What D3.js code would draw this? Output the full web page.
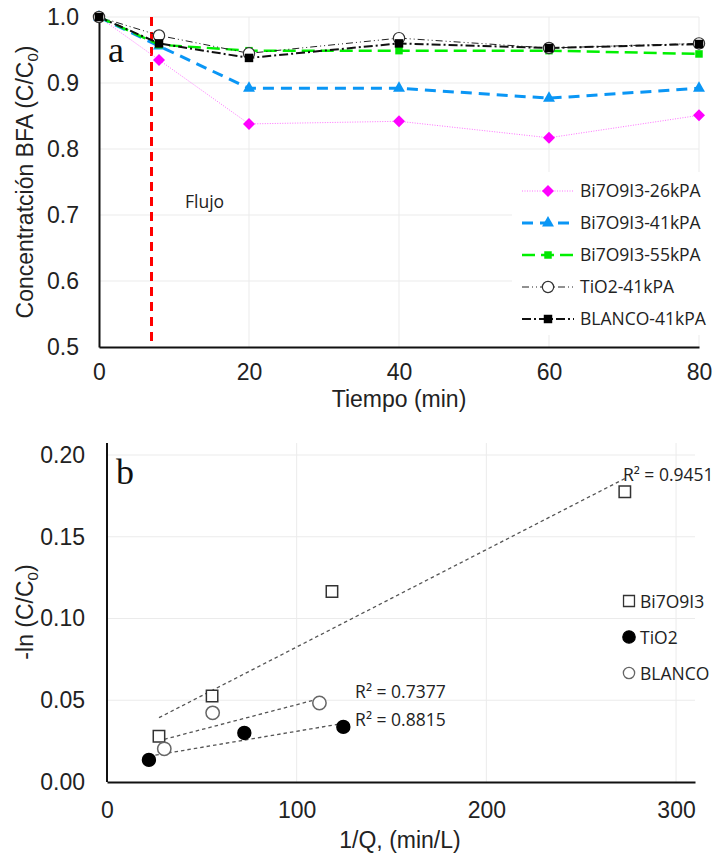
<!DOCTYPE html>
<html>
<head>
<meta charset="utf-8">
<script src="https://cdn.jsdelivr.net/npm/d3@7"></script>
<style>
  body { margin: 0; background: #fff; }
  svg { display: block; }
  .tick-label { font-family: "Liberation Sans", Arial, sans-serif; font-size: 23px; fill: #222; }
  .axis-title { font-family: "Liberation Sans", Arial, sans-serif; font-size: 23px; fill: #222; }
  .leg { font-family: "Open Sans", sans-serif; font-size: 17.5px; fill: #222; }
  .panel { font-family: "Liberation Serif", serif; font-size: 36px; fill: #111; }
</style>
</head>
<body>
<svg id="chart" width="719" height="859"></svg>
<script>
// ---- panel a data ----
const tiempo = [0, 8, 20, 40, 60, 80];
const bi26 = [1.0, 0.935, 0.838, 0.842, 0.817, 0.851];
const bi41 = [1.0, 0.956, 0.892, 0.892, 0.877, 0.892];
const bi55 = [1.0, 0.958, 0.949, 0.949, 0.949, 0.944];
const tio2_41 = [1.0, 0.972, 0.945, 0.968, 0.953, 0.960];
const blanco41 = [1.0, 0.960, 0.938, 0.960, 0.953, 0.959];
const flujoT = 7;
const yTicksA = [0.5, 0.6, 0.7, 0.8, 0.9, 1.0];
const xTicksA = [0, 20, 40, 60, 80];

// ---- panel b data ----
const invQBi = [27.4, 55.4, 118.6, 273];
const lnBi = [0.028, 0.0526, 0.1165, 0.1775];
const invQTio2 = [22.1, 72.4, 124.6];
const lnTio2 = [0.0135, 0.030, 0.0337];
const invQBlanco = [30.2, 55.7, 112];
const lnBlanco = [0.0203, 0.0423, 0.0483];
const r2Text = ["R² = 0.9451", "R² = 0.7377", "R² = 0.8815"];
const r2X = [272, 130.8, 130.8];
const r2Y = [0.1842, 0.0514, 0.0343];
const yTicksB = [0, 0.05, 0.10, 0.15, 0.20];
const xTicksB = [0, 100, 200, 300];

const svg = d3.select('#chart');
const grid = '#ebebeb';

// ================= panel a =================
const xA = d3.scaleLinear().domain([0, 80]).range([99, 699]);
const yA = d3.scaleLinear().domain([0.5, 1.0]).range([347, 17]);

const ga = svg.append('g');
ga.selectAll('.hgrid').data(yTicksA.slice(1)).join('line')
    .attr('x1', xA(0)).attr('x2', xA(80))
    .attr('y1', d => yA(d)).attr('y2', d => yA(d))
    .attr('stroke', grid).attr('stroke-width', 1);
ga.selectAll('.vgrid').data(xTicksA.slice(1)).join('line')
    .attr('x1', d => xA(d)).attr('x2', d => xA(d))
    .attr('y1', yA(1.0)).attr('y2', yA(0.5))
    .attr('stroke', grid).attr('stroke-width', 1);

const yAxisA = d3.axisLeft(yA).tickValues(yTicksA).tickFormat(d3.format('.1f')).tickSize(0).tickPadding(20);
const xAxisA = d3.axisBottom(xA).tickValues(xTicksA).tickSize(0).tickPadding(17);
ga.append('g').attr('transform', `translate(${xA(0)},0)`).call(yAxisA)
    .call(g => g.select('.domain').attr('stroke', '#111').attr('stroke-width', 2))
    .selectAll('text').attr('class', 'tick-label').attr('font-family', null).attr('font-size', null).attr('fill', null);
ga.append('g').attr('transform', `translate(0,${yA(0.5)})`).call(xAxisA)
    .call(g => g.select('.domain').attr('stroke', '#111').attr('stroke-width', 2))
    .selectAll('text').attr('class', 'tick-label').attr('font-family', null).attr('font-size', null).attr('fill', null);

// flujo line
ga.append('line')
    .attr('x1', xA(flujoT)).attr('x2', xA(flujoT))
    .attr('y1', yA(1.0)).attr('y2', yA(0.5))
    .attr('stroke', '#ff0000').attr('stroke-width', 3).attr('stroke-dasharray', '9,6');
ga.append('text').attr('class', 'leg').attr('x', 185).attr('y', 208).text('Flujo');
ga.append('text').attr('class', 'panel').attr('x', 108).attr('y', 62).text('a');

const seriesA = [
    { name: 'Bi7O9I3-26kPA', vals: bi26, color: '#ff70ff', w: 1, dash: '1,1.5',
      shape: d3.symbolSquare, size: 72, rot: 45, fill: '#ff00ff', stroke: 'none' },
    { name: 'Bi7O9I3-41kPA', vals: bi41, color: '#0a96f5', w: 3, dash: '11,7',
      shape: d3.symbolTriangle, size: 62, rot: 0, fill: '#0a96f5', stroke: 'none' },
    { name: 'Bi7O9I3-55kPA', vals: bi55, color: '#00f000', w: 2.5, dash: '13,6',
      shape: d3.symbolSquare, size: 56, rot: 0, fill: '#00e600', stroke: 'none' },
    { name: 'TiO2-41kPA', vals: tio2_41, color: '#222', w: 1, dash: '7,3,1,3,1,3',
      shape: d3.symbolCircle, size: 100, rot: 0, fill: '#fff', stroke: '#333' },
    { name: 'BLANCO-41kPA', vals: blanco41, color: '#111', w: 2, dash: '9,3,2,3',
      shape: d3.symbolSquare, size: 72, rot: 0, fill: '#000', stroke: 'none' }
];

const lineA = d3.line().x(d => xA(d[0])).y(d => yA(d[1]));
seriesA.forEach(s => {
    const pts = tiempo.map((t, i) => [t, s.vals[i]]);
    ga.append('path').datum(pts)
        .attr('d', lineA).attr('fill', 'none')
        .attr('stroke', s.color).attr('stroke-width', s.w).attr('stroke-dasharray', s.dash);
});
seriesA.forEach(s => {
    const pts = tiempo.map((t, i) => [t, s.vals[i]]);
    ga.selectAll(null).data(pts).join('path')
        .attr('d', d3.symbol().type(s.shape).size(s.size))
        .attr('transform', d => `translate(${xA(d[0])},${yA(d[1])}) rotate(${s.rot})`)
        .attr('fill', s.fill).attr('stroke', s.stroke).attr('stroke-width', 1.2);
});

// legend a
const legA = ga.append('g');
legA.append('rect').attr('x', 512).attr('y', 172).attr('width', 207).attr('height', 163).attr('fill', '#fff');
seriesA.forEach((s, i) => {
    const cy = 191 + i * 32;
    legA.append('line').attr('x1', 522).attr('x2', 574).attr('y1', cy).attr('y2', cy)
        .attr('stroke', s.color).attr('stroke-width', s.w).attr('stroke-dasharray', s.dash);
    legA.append('path')
        .attr('d', d3.symbol().type(s.shape).size(s.size))
        .attr('transform', `translate(548,${cy}) rotate(${s.rot})`)
        .attr('fill', s.fill).attr('stroke', s.stroke).attr('stroke-width', 1.2);
    legA.append('text').attr('class', 'leg').attr('x', 580).attr('y', cy + 6).text(s.name);
});

// axis titles a
ga.append('text').attr('class', 'axis-title').attr('text-anchor', 'middle')
    .attr('x', xA(40)).attr('y', 407).text('Tiempo (min)');
const ytA = ga.append('text').attr('class', 'axis-title').attr('text-anchor', 'middle')
    .attr('transform', 'translate(33,182) rotate(-90)');
ytA.append('tspan').text('Concentratción BFA (C/C');
ytA.append('tspan').attr('font-size', '15px').attr('dy', 5).text('0');
ytA.append('tspan').attr('dy', -5).text(')');

// ================= panel b =================
const xB = d3.scaleLinear().domain([0, 310]).range([107, 695]);
const yB = d3.scaleLinear().domain([0, 0.2]).range([782, 455]);
const yTopB = 443;

const gb = svg.append('g');
gb.selectAll('.hgrid').data(yTicksB.slice(1)).join('line')
    .attr('x1', xB(0)).attr('x2', xB(310))
    .attr('y1', d => yB(d)).attr('y2', d => yB(d))
    .attr('stroke', grid).attr('stroke-width', 1);
gb.selectAll('.vgrid').data(xTicksB.slice(1)).join('line')
    .attr('x1', d => xB(d)).attr('x2', d => xB(d))
    .attr('y1', yTopB).attr('y2', yB(0))
    .attr('stroke', grid).attr('stroke-width', 1);

const yAxisB = d3.axisLeft(yB).tickValues(yTicksB).tickFormat(d3.format('.2f')).tickSize(0).tickPadding(22);
const xAxisB = d3.axisBottom(xB).tickValues(xTicksB).tickSize(0).tickPadding(20);
gb.append('g').attr('transform', `translate(${xB(0)},0)`).call(yAxisB)
    .call(g => g.select('.domain').attr('d', `M0,${yTopB}V${yB(0)}`).attr('stroke', '#111').attr('stroke-width', 2))
    .selectAll('text').attr('class', 'tick-label').attr('font-family', null).attr('font-size', null).attr('fill', null);
gb.append('g').attr('transform', `translate(0,${yB(0)})`).call(xAxisB)
    .call(g => g.select('.domain').attr('stroke', '#111').attr('stroke-width', 2))
    .selectAll('text').attr('class', 'tick-label').attr('font-family', null).attr('font-size', null).attr('fill', null);

gb.append('text').attr('class', 'panel').attr('x', 116).attr('y', 484).text('b');

const seriesB = [
    { name: 'Bi7O9I3', xs: invQBi, ys: lnBi, shape: d3.symbolSquare, size: 130, fill: '#fff', stroke: '#333' },
    { name: 'TiO2', xs: invQTio2, ys: lnTio2, shape: d3.symbolCircle, size: 130, fill: '#000', stroke: '#000' },
    { name: 'BLANCO', xs: invQBlanco, ys: lnBlanco, shape: d3.symbolCircle, size: 140, fill: '#fff', stroke: '#666' }
];

// linear trendlines (least squares)
seriesB.forEach(s => {
    const mx = d3.mean(s.xs), my = d3.mean(s.ys);
    const sxy = d3.sum(s.xs, (x, i) => (x - mx) * (s.ys[i] - my));
    const sxx = d3.sum(s.xs, x => (x - mx) * (x - mx));
    const m = sxy / sxx, b = my - m * mx;
    const x0 = d3.min(s.xs), x1 = d3.max(s.xs);
    gb.append('line')
        .attr('x1', xB(x0)).attr('y1', yB(m * x0 + b))
        .attr('x2', xB(x1)).attr('y2', yB(m * x1 + b))
        .attr('stroke', '#555').attr('stroke-width', 1.3).attr('stroke-dasharray', '3.5,3');
});
seriesB.forEach(s => {
    gb.selectAll(null).data(s.xs.map((x, i) => [x, s.ys[i]])).join('path')
        .attr('d', d3.symbol().type(s.shape).size(s.size))
        .attr('transform', d => `translate(${xB(d[0])},${yB(d[1])})`)
        .attr('fill', s.fill).attr('stroke', s.stroke).attr('stroke-width', 1.5);
});
r2Text.forEach((t, i) => {
    gb.append('text').attr('class', 'leg').attr('x', xB(r2X[i])).attr('y', yB(r2Y[i])).text(t);
});

// legend b
seriesB.forEach((s, i) => {
    const cy = 601 + i * 36;
    gb.append('path')
        .attr('d', d3.symbol().type(s.shape).size(s.name === 'BLANCO' ? 100 : 120))
        .attr('transform', `translate(629,${cy})`)
        .attr('fill', s.fill).attr('stroke', s.stroke).attr('stroke-width', 1.3);
    gb.append('text').attr('class', 'leg').attr('x', 640).attr('y', cy + 7).text(s.name);
});

// axis titles b
gb.append('text').attr('class', 'axis-title').attr('text-anchor', 'middle')
    .attr('x', 400).attr('y', 848).text('1/Q, (min/L)');
const ytB = gb.append('text').attr('class', 'axis-title').attr('text-anchor', 'middle')
    .attr('transform', 'translate(33,612) rotate(-90)');
ytB.append('tspan').text('-ln (C/C');
ytB.append('tspan').attr('font-size', '15px').attr('dy', 5).text('0');
ytB.append('tspan').attr('dy', -5).text(')');
</script>
</body>
</html>
